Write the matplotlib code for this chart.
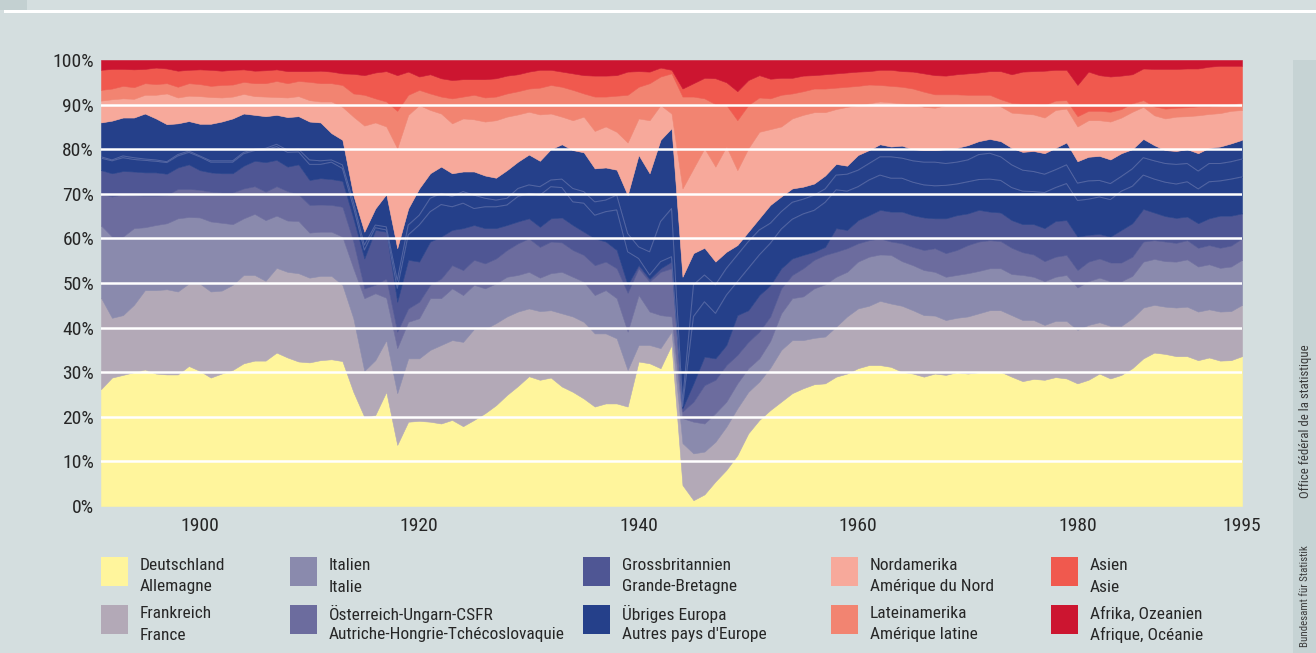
import os
import re
import matplotlib
matplotlib.use("Agg")
import matplotlib.pyplot as plt
import numpy as np
from matplotlib.patches import Rectangle
from matplotlib import font_manager as fm

# ---------------- data (shares in % of Swiss exports) ----------------
years = list(range(1891, 1996))

deutschland = [26.2, 28.8, 29.4, 30.0, 30.6, 29.7, 29.5, 29.5, 31.4, 30.3,
               28.8, 29.7, 30.5, 32.0, 32.6, 32.6, 34.4, 33.3, 32.4, 32.2,
               32.7, 32.9, 32.5, 25.6, 20.0, 20.4, 25.6, 13.7, 18.9, 19.1,
               18.9, 18.5, 19.3, 17.9, 19.3, 20.8, 22.6, 24.9, 26.9, 29.1,
               28.3, 28.8, 26.8, 25.6, 24.1, 22.3, 23.0, 23.0, 22.3, 32.4,
               32.0, 30.9, 36.1, 4.7, 1.3, 2.6, 5.5, 8.1, 11.4, 16.3,
               19.3, 21.5, 23.4, 25.3, 26.4, 27.3, 27.5, 29.0, 29.7, 30.9,
               31.6, 31.6, 31.2, 30.1, 29.7, 29.0, 29.7, 29.4, 30.0, 29.7,
               30.0, 30.1, 30.1, 29.0, 28.0, 28.5, 28.3, 28.9, 28.6, 27.5,
               28.3, 29.7, 28.6, 29.4, 30.9, 33.1, 34.4, 34.1, 33.6, 33.6,
               32.7, 33.3, 32.6, 32.7, 33.6]

frankreich = [20.5, 13.4, 13.4, 15.1, 17.8, 18.7, 19.1, 18.6, 18.5, 19.6,
              19.3, 18.6, 19.1, 19.8, 19.2, 17.9, 19.0, 19.2, 19.8, 19.0,
              18.9, 18.7, 17.1, 16.5, 10.3, 12.3, 11.6, 11.6, 14.2, 14.0,
              16.1, 17.6, 17.9, 18.9, 20.4, 18.9, 18.4, 17.6, 16.7, 15.2,
              15.4, 15.1, 16.4, 16.9, 17.2, 16.4, 15.7, 14.6, 8.2, 3.7,
              4.1, 4.5, 3.0, 9.4, 10.5, 9.6, 8.9, 9.7, 10.5, 9.3,
              8.6, 9.5, 11.6, 11.9, 10.8, 10.4, 10.5, 11.2, 12.8, 13.4,
              13.3, 14.4, 14.2, 14.8, 14.2, 13.8, 13.0, 12.3, 12.2, 12.8,
              13.2, 13.8, 13.8, 13.8, 13.7, 13.2, 12.3, 12.6, 12.9, 12.0,
              12.3, 11.5, 11.8, 11.0, 11.2, 11.4, 10.7, 10.6, 10.9, 11.1,
              10.9, 10.8, 11.0, 11.0, 11.5]

italien = [16.2, 18.2, 17.6, 17.2, 14.1, 14.6, 14.8, 16.4, 14.9, 14.8,
           15.7, 15.2, 13.6, 12.7, 13.7, 13.6, 11.7, 11.5, 11.7, 10.1,
           9.9, 9.9, 10.8, 11.2, 16.3, 15.0, 9.5, 10.1, 8.2, 9.0,
           11.6, 10.5, 11.6, 10.5, 9.9, 9.1, 8.9, 8.9, 8.2, 8.2,
           7.5, 8.3, 9.3, 8.9, 9.0, 8.6, 9.7, 9.0, 8.6, 11.2,
           7.5, 7.4, 3.4, 5.6, 7.1, 6.3, 6.4, 5.6, 5.6, 5.3,
           5.2, 6.0, 8.2, 9.4, 9.8, 11.1, 11.7, 11.2, 10.0, 10.5,
           11.0, 10.4, 10.9, 10.0, 10.1, 10.1, 9.8, 9.7, 9.6, 9.7,
           9.5, 9.4, 9.4, 9.2, 10.1, 9.7, 9.8, 9.9, 10.3, 9.5,
           9.8, 10.0, 10.0, 10.0, 9.5, 10.3, 10.3, 10.2, 10.3, 10.6,
           10.1, 10.1, 9.8, 10.0, 10.1]

oesterreich = [7.1, 9.0, 9.5, 7.4, 7.1, 6.6, 6.3, 6.6, 6.3, 6.2,
               6.7, 6.8, 7.1, 6.7, 6.2, 6.4, 6.6, 6.6, 6.0, 6.2,
               6.1, 6.0, 6.7, 6.0, 2.2, 1.9, 4.3, 3.7, 3.0, 3.7,
               3.0, 4.4, 5.2, 5.6, 5.6, 5.6, 5.6, 6.0, 7.1, 7.5,
               6.9, 7.1, 6.6, 6.0, 6.0, 6.7, 6.4, 6.7, 8.7, 6.0,
               6.7, 9.7, 10.8, 1.5, 4.5, 8.6, 7.5, 8.2, 6.4, 5.9,
               6.0, 5.5, 5.6, 5.2, 6.3, 6.4, 6.6, 5.6, 5.3, 4.1,
               3.7, 3.6, 3.0, 4.0, 4.1, 4.5, 5.3, 5.3, 5.6, 6.3,
               6.6, 6.3, 6.1, 5.9, 5.1, 5.0, 4.5, 4.5, 4.5, 3.9,
               4.4, 4.3, 4.2, 4.2, 4.3, 4.5, 4.2, 4.4, 4.2, 4.3,
               4.2, 4.3, 4.5, 4.7, 4.8]

grossbritannien = [5.3, 5.2, 5.2, 5.3, 5.2, 5.2, 4.8, 4.8, 5.5, 4.4,
                   4.3, 4.3, 4.3, 5.1, 5.7, 6.6, 5.9, 5.5, 6.7, 5.6,
                   5.9, 5.8, 5.8, 5.2, 6.7, 12.3, 10.5, 6.7, 10.9, 9.0,
                   9.7, 9.4, 7.9, 9.4, 7.8, 7.9, 6.8, 5.6, 4.9, 4.5,
                   4.5, 5.2, 5.6, 5.6, 5.2, 6.0, 4.5, 4.1, 1.8, 0.7,
                   0.6, 0.8, 1.5, 0.7, 4.1, 6.4, 4.8, 4.5, 8.9, 7.1,
                   8.2, 7.0, 4.5, 3.7, 3.0, 1.8, 1.8, 5.3, 4.1, 5.2,
                   5.6, 6.4, 6.7, 7.1, 7.1, 7.3, 6.7, 7.8, 7.8, 7.1,
                   7.1, 6.4, 6.4, 6.2, 6.3, 6.8, 7.4, 8.0, 7.8, 7.5,
                   6.0, 5.5, 5.8, 7.3, 7.5, 7.3, 6.2, 5.7, 5.6, 5.3,
                   5.5, 6.0, 7.2, 6.7, 5.6]

# "Übriges Europa" is drawn in three stacked parts separated by thin lines
uebriges_europa_1 = [2.7, 2.8, 3.0, 2.7, 2.7, 2.5, 2.5, 2.6, 2.7, 3.0,
                     2.3, 2.5, 2.5, 2.7, 2.3, 2.8, 3.0, 3.2, 2.8, 3.5,
                     3.1, 3.8, 2.8, 2.6, 1.9, 0.5, 0.4, 3.0, 5.6, 8.2,
                     6.7, 7.2, 5.2, 5.6, 3.7, 4.8, 4.8, 4.5, 5.6, 5.6,
                     7.1, 7.1, 6.7, 5.2, 6.4, 5.2, 6.7, 9.0, 7.4, 1.5,
                     0.9, 1.5, 1.1, 0.4, 15.0, 12.3, 10.1, 11.2, 7.5, 9.4,
                     9.0, 9.4, 8.8, 8.8, 9.2, 9.3, 10.0, 8.6, 8.7, 7.5,
                     7.9, 7.8, 7.5, 7.5, 7.4, 7.3, 7.3, 7.4, 7.0, 7.1,
                     6.8, 7.3, 7.2, 7.3, 7.4, 7.3, 8.0, 7.5, 8.2, 8.1,
                     8.0, 8.3, 8.3, 8.7, 8.3, 7.6, 7.5, 7.6, 7.6, 7.8,
                     7.7, 8.2, 7.8, 8.2, 8.2]

uebriges_europa_2 = [0.3, 0.2, 0.4, 0.4, 0.3, 0.3, 0.2, 0.3, 0.3, 0.2,
                     0.3, 0.3, 0.3, 0.3, 0.3, 0.3, 0.5, 0.5, 0.6, 1.0,
                     0.8, 0.5, 0.8, 1.1, 1.1, 0.6, 0.7, 1.8, 2.2, 2.2,
                     3.0, 2.5, 2.3, 2.6, 3.0, 1.9, 1.5, 1.5, 1.8, 1.9,
                     1.9, 1.5, 1.9, 3.0, 2.6, 3.0, 2.6, 3.3, 4.1, 2.6,
                     5.2, 9.0, 10.8, 1.1, 7.1, 6.0, 6.4, 6.0, 6.0, 6.0,
                     5.6, 4.5, 3.9, 3.8, 3.3, 3.4, 3.0, 3.3, 3.8, 3.7,
                     3.7, 4.1, 4.8, 4.5, 4.8, 5.1, 5.3, 4.9, 4.9, 4.9,
                     5.6, 5.8, 5.3, 5.1, 4.7, 4.5, 4.1, 4.0, 4.2, 3.9,
                     4.1, 3.7, 3.6, 3.3, 3.9, 3.9, 4.1, 4.2, 4.4, 4.1,
                     4.0, 4.1, 3.9, 3.9, 4.0]

uebriges_europa_3 = [7.7, 8.8, 8.6, 9.0, 10.2, 9.3, 8.4, 7.0, 6.7, 7.2,
                     8.3, 8.8, 9.5, 8.7, 7.7, 7.2, 6.6, 7.4, 7.4, 8.6,
                     8.6, 6.0, 5.6, 1.5, 3.0, 3.7, 7.3, 7.2, 3.7, 6.0,
                     5.6, 6.0, 5.2, 4.5, 5.3, 5.1, 5.0, 6.3, 6.0, 6.8,
                     5.8, 6.9, 7.8, 8.6, 8.8, 7.5, 7.3, 5.7, 8.6, 20.6,
                     17.6, 18.3, 18.0, 28.0, 7.1, 6.1, 5.2, 3.7, 2.2, 2.2,
                     2.6, 4.1, 3.4, 3.1, 2.8, 2.6, 3.0, 2.5, 1.9, 3.4,
                     3.0, 2.8, 2.3, 2.8, 2.6, 2.7, 2.7, 3.2, 3.2, 3.3,
                     3.0, 3.2, 3.5, 3.8, 4.1, 4.6, 4.7, 4.9, 5.0, 4.9,
                     5.4, 5.5, 5.4, 5.2, 4.4, 4.2, 3.5, 3.0, 3.0, 3.2,
                     4.0, 3.5, 3.8, 4.1, 4.3]

nordamerika = [4.9, 4.8, 4.3, 4.2, 4.2, 5.3, 6.9, 5.8, 5.7, 6.2,
               6.0, 5.4, 4.9, 4.4, 4.2, 4.4, 4.0, 4.4, 4.5, 4.8,
               4.7, 7.1, 7.4, 17.6, 23.8, 19.3, 15.2, 22.4, 21.0, 18.7,
               14.2, 11.9, 11.2, 11.9, 11.7, 12.1, 12.9, 12.0, 10.6, 9.6,
               10.4, 8.0, 6.2, 6.7, 8.0, 8.4, 9.2, 8.5, 11.8, 8.2,
               11.9, 7.8, 3.3, 19.8, 19.0, 22.3, 21.3, 23.6, 16.8, 18.7,
               19.4, 17.0, 15.7, 15.7, 16.1, 16.0, 14.2, 12.3, 13.2, 11.2,
               10.5, 9.6, 9.9, 9.5, 10.1, 9.7, 9.5, 9.9, 9.6, 9.2,
               8.3, 7.6, 7.8, 7.9, 8.6, 8.2, 8.0, 8.5, 7.6, 7.8,
               8.2, 8.0, 8.5, 8.0, 8.4, 7.2, 6.7, 7.1, 7.7, 7.4,
               8.5, 7.6, 7.5, 7.3, 6.7]

lateinamerika = [2.4, 2.4, 2.8, 2.6, 2.6, 2.4, 2.3, 2.4, 2.8, 2.7,
                 2.5, 2.8, 2.7, 2.7, 2.9, 3.0, 3.6, 3.2, 3.4, 4.1,
                 4.1, 4.1, 4.9, 5.2, 6.9, 5.4, 5.6, 8.4, 4.5, 3.4,
                 3.7, 3.8, 5.6, 4.9, 5.5, 5.4, 5.3, 5.2, 5.2, 5.2,
                 6.0, 6.4, 6.7, 6.8, 5.2, 7.7, 6.7, 8.1, 10.7, 7.1,
                 8.3, 6.4, 9.0, 20.6, 16.1, 11.2, 14.0, 9.3, 11.2, 9.7,
                 7.7, 6.9, 7.1, 5.6, 5.3, 5.3, 5.3, 4.8, 4.5, 4.3,
                 4.2, 3.7, 3.7, 3.7, 3.5, 3.4, 3.0, 2.4, 2.4, 2.1,
                 2.1, 2.3, 1.6, 2.2, 2.2, 2.4, 2.8, 2.1, 1.9, 2.3,
                 2.1, 2.1, 2.2, 1.9, 1.9, 1.5, 2.0, 2.2, 2.0, 2.0,
                 2.0, 1.7, 1.7, 1.5, 1.6]

asien = [4.5, 4.4, 3.8, 4.0, 3.2, 3.7, 3.3, 3.6, 3.0, 3.3,
         3.6, 3.2, 3.3, 2.8, 2.8, 2.9, 2.6, 2.7, 2.2, 2.4,
         2.8, 2.6, 2.6, 4.4, 4.4, 5.8, 6.8, 8.0, 5.2, 3.0,
         4.3, 4.1, 4.1, 3.9, 3.5, 4.1, 4.1, 4.0, 3.8, 3.8,
         4.0, 3.4, 3.4, 3.7, 4.1, 4.7, 4.7, 4.6, 5.2, 3.5,
         2.6, 2.0, 0.8, 1.8, 3.0, 4.6, 5.8, 5.1, 6.5, 5.6,
         5.0, 4.4, 3.8, 3.5, 3.5, 3.0, 3.2, 3.2, 3.2, 3.2,
         3.0, 3.4, 3.6, 3.5, 3.8, 4.1, 4.3, 4.2, 4.5, 4.8,
         5.0, 5.3, 6.3, 6.4, 7.2, 7.3, 7.7, 6.9, 6.8, 7.0,
         8.8, 8.0, 7.9, 7.5, 6.5, 7.1, 8.4, 8.9, 8.7, 8.7,
         8.5, 8.9, 8.9, 8.6, 8.3]

afrika_ozeanien = [2.2, 2.0, 2.0, 2.1, 2.0, 1.7, 1.9, 2.4, 2.2, 2.1,
                   2.2, 2.4, 2.2, 2.1, 2.4, 2.3, 2.1, 2.5, 2.5, 2.5,
                   2.4, 2.6, 3.0, 3.1, 3.4, 2.8, 2.5, 3.4, 2.6, 3.7,
                   3.2, 4.1, 4.5, 4.3, 4.3, 4.3, 4.1, 3.5, 3.2, 2.6,
                   2.2, 2.2, 2.6, 3.0, 3.4, 3.5, 3.5, 3.4, 2.6, 2.5,
                   2.6, 1.7, 2.2, 6.4, 5.2, 4.0, 4.1, 5.0, 7.0, 4.5,
                   3.4, 4.2, 4.0, 4.0, 3.5, 3.4, 3.2, 3.0, 2.8, 2.6,
                   2.5, 2.2, 2.2, 2.5, 2.6, 3.0, 3.4, 3.5, 3.2, 3.0,
                   2.8, 2.5, 2.5, 3.2, 2.6, 2.5, 2.4, 2.2, 2.2, 5.6,
                   2.6, 3.4, 3.7, 3.5, 3.2, 1.9, 2.0, 2.0, 2.0, 1.9,
                   1.9, 1.5, 1.3, 1.3, 1.3]

legend_de = ["Deutschland", "Frankreich", "Italien", "Österreich-Ungarn-CSFR",
             "Grossbritannien", "Übriges Europa", "Nordamerika", "Lateinamerika",
             "Asien", "Afrika, Ozeanien"]
legend_fr = ["Allemagne", "France", "Italie", "Autriche-Hongrie-Tchécoslovaquie",
             "Grande-Bretagne", "Autres pays d'Europe", "Amérique du Nord",
             "Amérique latine", "Asie", "Afrique, Océanie"]
x_ticks = [1900, 1920, 1940, 1960, 1980, 1995]
y_ticks = [0, 10, 20, 30, 40, 50, 60, 70, 80, 90, 100]

# ---------------- font: pick a condensed sans if one is installed ----------------
def pick_condensed_font():
    files = [f.fname for f in fm.fontManager.ttflist]
    prefs = [r"LiberationSansNarrow-Regular", r"RobotoCondensed-Regular",
             r"Roboto_Condensed-Regular", r"RobotoCondensed-Light",
             r"NotoSans-Condensed\.", r"NotoSans-CondensedLight",
             r"OpenSans-CondensedRegular", r"OpenSans_Condensed-Regular",
             r"DejaVuSansCondensed\.ttf", r"DejaVuSans-Condensed\."]
    for pat in prefs:
        for fn in files:
            if re.search(pat, os.path.basename(fn)):
                return fn
    bad = ("Bold", "Italic", "Oblique", "Black", "Medium", "Thin", "Semi", "Extra", "Mono")
    for fn in files:
        b = os.path.basename(fn)
        if ("Condensed" in b or "Narrow" in b) and not any(x in b for x in bad):
            return fn
    return None

cond = pick_condensed_font()
if cond:
    def FP(size):
        return fm.FontProperties(fname=cond, size=size)
else:
    def FP(size):
        return fm.FontProperties(family="DejaVu Sans", size=size * 0.88)

# ---------------- styling ----------------
C_DE = "#FFF59C"
C_FR = "#B3A9B7"
C_IT = "#8A8AAD"
C_AT = "#6C6C9E"
C_GB = "#4F5694"
C_EU = "#25408A"
C_NA = "#F7A99B"
C_LA = "#F28471"
C_AS = "#F0594E"
C_AF = "#CC1530"
legend_colors = [C_DE, C_FR, C_IT, C_AT, C_GB, C_EU, C_NA, C_LA, C_AS, C_AF]
layer_colors = [C_DE, C_FR, C_IT, C_AT, C_GB, C_EU, C_EU, C_EU, C_NA, C_LA, C_AS, C_AF]

BG = "#D4DEDF"
STRIP = "#C6D3D4"
TXT = "#262626"

W, H = 1316, 653
fig = plt.figure(figsize=(W / 100, H / 100), dpi=100)
fig.patch.set_facecolor(BG)

# header decoration
fig.add_artist(Rectangle((0, 1 - 10 / H), 27 / W, 10 / H, transform=fig.transFigure,
                         facecolor="#C3D0D1", edgecolor="none"))
fig.add_artist(Rectangle((4 / W, 1 - 13 / H), 1 - 4 / W, 3 / H, transform=fig.transFigure,
                         facecolor="white", edgecolor="none"))
# right vertical strip
fig.add_artist(Rectangle((1293 / W, 0), 23 / W, (H - 60) / H, transform=fig.transFigure,
                         facecolor=STRIP, edgecolor="none"))
fig.text(1305 / W, 1 - 596 / H, "Bundesamt für Statistik", rotation=90,
         ha="center", va="center", fontproperties=FP(7.8), color="#3a3a3a")
fig.text(1305 / W, 1 - 421 / H, "Office fédéral de la statistique", rotation=90,
         ha="center", va="center", fontproperties=FP(9.3), color="#3a3a3a")

# main axes
ax = fig.add_axes([101 / W, 1 - 506 / H, (1242 - 101) / W, (506 - 60) / H])
ax.set_facecolor(BG)

data = np.array([deutschland, frankreich, italien, oesterreich, grossbritannien,
                 uebriges_europa_1, uebriges_europa_2, uebriges_europa_3,
                 nordamerika, lateinamerika, asien, afrika_ozeanien], dtype=float)
data = data / data.sum(axis=0) * 100.0

polys = ax.stackplot(years, data, colors=layer_colors, linewidth=0)
for p, c in zip(polys, layer_colors):
    p.set_edgecolor(c)
    p.set_linewidth(0.4)

cum = np.cumsum(data, axis=0)
for k in (5, 6):
    ax.plot(years, cum[k], color="#5466A3", lw=0.7, zorder=2)

for v in range(10, 100, 10):
    ax.axhline(v, color="white", lw=1.8, zorder=3)

ax.set_xlim(1891, 1995)
ax.set_ylim(0, 100)
for s in ax.spines.values():
    s.set_visible(False)
ax.set_xticks(x_ticks)
ax.set_xticklabels([str(t) for t in x_ticks])
ax.set_yticks(y_ticks)
ax.set_yticklabels([f"{t}%" for t in y_ticks])
ax.tick_params(axis="both", length=0, colors=TXT)
ax.tick_params(axis="y", pad=5)
ax.tick_params(axis="x", pad=8)
for lab in ax.get_xticklabels() + ax.get_yticklabels():
    lab.set_fontproperties(FP(14))

# legend (manual)
col_x = [101, 290, 583, 831, 1051]
row_top = [557, 605]
for i in range(10):
    col = i // 2
    row = i % 2
    x0 = col_x[col]
    y0 = row_top[row]
    fig.add_artist(Rectangle((x0 / W, 1 - (y0 + 29) / H), 27 / W, 29 / H,
                             transform=fig.transFigure, facecolor=legend_colors[i],
                             edgecolor="none"))
    fig.text((x0 + 39) / W, 1 - (y0 + 9) / H, legend_de[i], ha="left", va="center",
             fontproperties=FP(12.5), color=TXT)
    fig.text((x0 + 39) / W, 1 - (y0 + 30) / H, legend_fr[i], ha="left", va="center",
             fontproperties=FP(12.5), color=TXT)

fig.savefig("out.png", dpi=100, facecolor=BG)
